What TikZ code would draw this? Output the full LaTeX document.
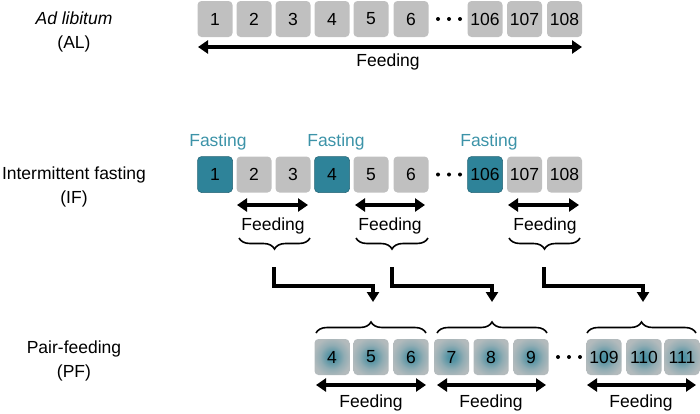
\documentclass[tikz,border=0pt]{standalone}
\usepackage{fontspec}
\setmainfont{Liberation Sans}
\usetikzlibrary{arrows.meta,decorations.pathreplacing}
\definecolor{boxgray}{HTML}{C0C0C0}
\definecolor{teal1}{HTML}{2E8399}
\definecolor{fasttext}{HTML}{3C93A8}
\pgfdeclareradialshading{pfshade}{\pgfpoint{0bp}{0bp}}{%
  color(0bp)=(teal1!90!white);
  color(6bp)=(teal1!72!boxgray);
  color(17bp)=(boxgray!68!teal1);
  color(27bp)=(boxgray!90!teal1);
  color(50bp)=(boxgray)}
\tikzset{
  txt/.style={font=\fontsize{17.5}{24}\selectfont, inner sep=0pt, align=center},
  daybox/.style={txt, rounded corners=4pt, minimum width=35pt, minimum height=36pt, fill=boxgray},
  fastbox/.style={daybox, fill=teal1, draw=teal1!75!black, line width=0.5pt},
  pfbox/.style={daybox, fill=none, shading=pfshade},
  feedarrow/.style={line width=3.6pt, {Triangle[length=10pt,width=13pt]}-{Triangle[length=10pt,width=13pt]}},
  elbow/.style={line width=3.6pt, -{Triangle[length=10pt,width=12pt]}},
  bracedown/.style={line width=1.6pt, decorate, decoration={brace, amplitude=11pt, mirror}},
  braceup/.style={line width=1.6pt, decorate, decoration={brace, amplitude=11pt}},
  fastlabel/.style={txt, text=fasttext},
  dot/.style={circle, fill=black, inner sep=0pt, minimum size=4pt},
}
\begin{document}
\begin{tikzpicture}[x=1pt,y=-1pt]
\useasboundingbox (0,0) rectangle (700,413);
% left labels
\node[txt] (al) at (74,32) {\itshape Ad libitum\\(AL)};
\node[txt] (if) at (74,187) {Intermittent fasting\\(IF)};
\node[txt] (pf) at (74,361) {Pair-feeding\\(PF)};
% AL row
\foreach \n/\x in {1/215,2/254,3/293,4/332,5/371,6/411,106/485,107/524.5,108/564.5}
  \node[daybox] (a\n) at (\x,19) {\n};
\foreach \i/\x in {1/438,2/449,3/460}
  \node[dot] (ad\i) at (\x,19) {};
\coordinate (alL) at (198,47);
\coordinate (alR) at (582,47);
\draw[feedarrow] (alL) -- (alR);
\node[txt] (alfeed) at (388,62) {Feeding};
% IF row
\foreach \n/\x in {2/254,3/293,5/371,6/411,107/524.5,108/564.5}
  \node[daybox] (b\n) at (\x,174.5) {\n};
\foreach \n/\x in {1/215,4/332,106/485}
  \node[fastbox] (b\n) at (\x,174.5) {\n};
\foreach \i/\x in {1/438,2/449,3/460}
  \node[dot] (bd\i) at (\x,174.5) {};
\node[fastlabel] (f1) at (218,142) {Fasting};
\node[fastlabel] (f2) at (336,142) {Fasting};
\node[fastlabel] (f3) at (489,142) {Fasting};
% IF feeding arrows
\foreach \k/\l/\r in {1/237/308,2/355/425,3/508/579}{
  \coordinate (ifL\k) at (\l,205);
  \coordinate (ifR\k) at (\r,205);
  \draw[feedarrow] (ifL\k) -- (ifR\k);
}
\node[txt] (iff1) at (273,226) {Feeding};
\node[txt] (iff2) at (390,226) {Feeding};
\node[txt] (iff3) at (545,226) {Feeding};
% IF braces
\foreach \k/\l/\r in {1/239/310,2/356/428,3/509/580}{
  \coordinate (ibL\k) at (\l,238);
  \coordinate (ibR\k) at (\r,238);
  \draw[bracedown] (ibL\k) -- (ibR\k);
}
% PF row
\foreach \n/\x in {4/332,5/371,6/411,7/451.5,8/491,9/531,109/604,110/644,111/682}
  \node[pfbox] (c\n) at (\x,357) {\n};
\foreach \i/\x in {1/558,2/569,3/580}
  \node[dot] (cd\i) at (\x,357) {};
% PF braces
\foreach \k/\l/\r in {1/316/426,2/437/547,3/587/696}{
  \coordinate (pbL\k) at (\l,333);
  \coordinate (pbR\k) at (\r,333);
  \draw[braceup] (pbL\k) -- (pbR\k);
}
% PF feeding arrows
\foreach \k/\l/\r in {1/316/426,2/437/546,3/587/696}{
  \coordinate (pfL\k) at (\l,385);
  \coordinate (pfR\k) at (\r,385);
  \draw[feedarrow] (pfL\k) -- (pfR\k);
}
\node[txt] (pff1) at (371,403) {Feeding};
\node[txt] (pff2) at (491,403) {Feeding};
\node[txt] (pff3) at (641,403) {Feeding};
% elbow connectors
\foreach \k/\s/\t in {1/274/373,2/392/492,3/544/643}{
  \coordinate (es\k) at (\s,267);
  \coordinate (et\k) at (\t,302);
  \draw[elbow] (es\k) |- ++(0,19) -| (et\k);
}
\end{tikzpicture}
\end{document}
